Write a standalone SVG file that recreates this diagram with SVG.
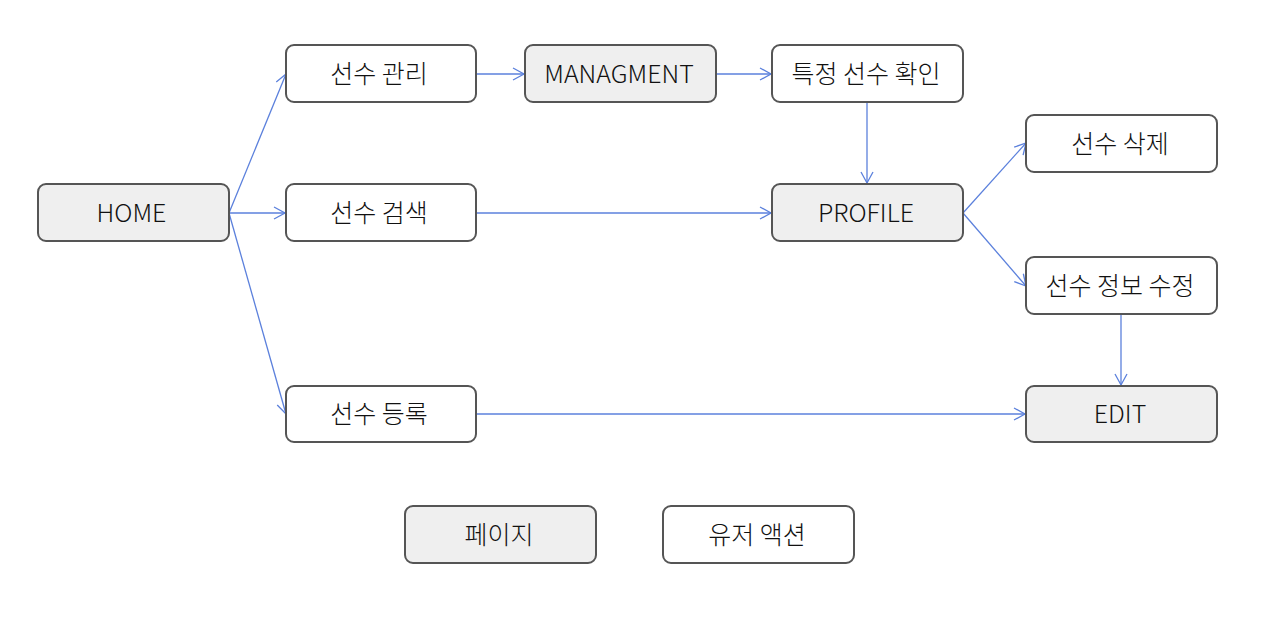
<svg xmlns="http://www.w3.org/2000/svg" width="1277" height="622" viewBox="0 0 1277 622">
<style>
.node rect{stroke:#555;stroke-width:2;}
.page rect{fill:#efefef;}
.action rect{fill:#fff;}
.node text{font-family:"Noto Sans CJK KR","Noto Sans",sans-serif;font-size:25px;font-weight:300;fill:#111;text-anchor:middle;dominant-baseline:central;}
.edges path{fill:none;stroke:#5b80dc;stroke-width:1.3;marker-end:url(#arr);}
</style>
<defs>
<marker id="arr" markerWidth="14" markerHeight="14" refX="12" refY="7" orient="auto" markerUnits="userSpaceOnUse">
<path d="M1,1 L12,7 L1,13" fill="none" stroke="#5b80dc" stroke-width="1.3"/>
</marker>
</defs>
<rect width="1277" height="622" fill="#fff"/>
<g class="edges">
<path d="M229,213 L286,74"/>
<path d="M229,213 L285,213"/>
<path d="M229,213 L286,414"/>
<path d="M476,74 L524,74"/>
<path d="M716,74 L771,74"/>
<path d="M867,102 L867,183"/>
<path d="M476,213 L771,213"/>
<path d="M963,213 L1026,143"/>
<path d="M963,213 L1026,286"/>
<path d="M1121,314 L1121,385"/>
<path d="M476,414 L1025,414"/>
</g>
<g id="home" class="node page"><rect x="38" y="184" width="191" height="57" rx="8"/><text x="131.5" y="210.5">HOME</text></g>
<g id="manage" class="node action"><rect x="286" y="45" width="190" height="57" rx="8"/><text x="379" y="71.5">선수 관리</text></g>
<g id="managment" class="node page"><rect x="525" y="45" width="191" height="57" rx="8"/><text x="619" y="71.5">MANAGMENT</text></g>
<g id="check" class="node action"><rect x="772" y="45" width="191" height="57" rx="8"/><text x="866" y="71.5">특정 선수 확인</text></g>
<g id="delete" class="node action"><rect x="1026" y="115" width="191" height="57" rx="8"/><text x="1120" y="141.5">선수 삭제</text></g>
<g id="search" class="node action"><rect x="286" y="184" width="190" height="57" rx="8"/><text x="379" y="210.5">선수 검색</text></g>
<g id="profile" class="node page"><rect x="772" y="184" width="191" height="57" rx="8"/><text x="866" y="210.5">PROFILE</text></g>
<g id="modify" class="node action"><rect x="1026" y="257" width="191" height="57" rx="8"/><text x="1120" y="283.5">선수 정보 수정</text></g>
<g id="register" class="node action"><rect x="286" y="386" width="190" height="56" rx="8"/><text x="379" y="412">선수 등록</text></g>
<g id="edit" class="node page"><rect x="1026" y="386" width="191" height="56" rx="8"/><text x="1120" y="412">EDIT</text></g>
<g id="legend-page" class="node page"><rect x="405" y="506" width="191" height="57" rx="8"/><text x="499" y="532.5">페이지</text></g>
<g id="legend-action" class="node action"><rect x="663" y="506" width="191" height="57" rx="8"/><text x="757" y="532.5">유저 액션</text></g>
</svg>
